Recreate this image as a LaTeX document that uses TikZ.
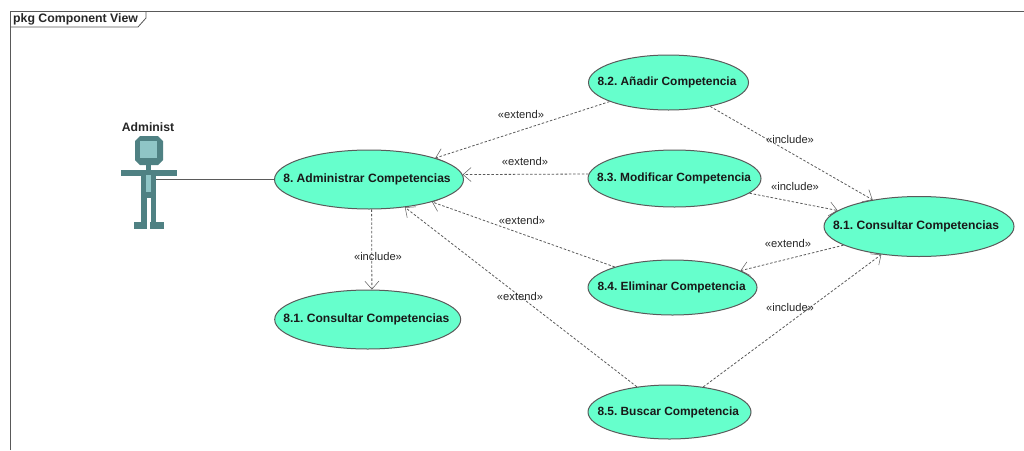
\documentclass[tikz,border=0pt]{standalone}
\usepackage{fontspec}
\setmainfont{Liberation Sans}
\usetikzlibrary{shapes.geometric,arrows.meta}
\definecolor{ucfill}{HTML}{66FFCC}
\definecolor{actordark}{HTML}{4F8183}
\definecolor{actorlight}{HTML}{8FC5C6}
\definecolor{linegray}{HTML}{5A5A5A}
\newcommand{\uctext}[2]{\raisebox{-1pt}{\makebox[0pt][l]{\kern-#1pt #2}}}
\tikzset{
  usecase/.style={ellipse,draw=linegray,line width=1pt,fill=ucfill,inner sep=0pt,font=\fontsize{11.9}{14}\selectfont\bfseries\frenchspacing,text=black!90},
  usecasewide/.style={usecase,font=\fontsize{12.1}{14}\selectfont\bfseries\frenchspacing},
  dep/.style={draw=linegray,line width=0.8pt,dash pattern=on 2.5pt off 1.8pt,-{Straight Barb[length=8pt,width=14pt,line width=0.5pt]}},
  stereo/.style={font=\fontsize{11.2}{13}\selectfont,inner sep=0pt,text=black!85},
  framelabel/.style={font=\fontsize{12.3}{14}\selectfont\bfseries,inner sep=0pt,anchor=west,text=black!85},
  frameline/.style={draw=black!65,line width=0.8pt},
  actorpart/.style={fill=actordark,draw=none},
  actortie/.style={fill=actorlight,draw=none}
}
\begin{document}
\begin{tikzpicture}[x=1pt,y=-1pt]
\useasboundingbox (0,0) rectangle (1024,450);
% frame
\draw[frameline] (10,450) -- (10,11) -- (1024,11);
\draw[frameline] (10,27) -- (138,27) -- (146,18) -- (146,11);
\node[framelabel] (frametitle) at (13,19) {pkg Component View};
% actor
\path[actorpart] (140,136) -- (158,136) -- (163,141) -- (163,160) -- (158,165) -- (140,165) -- (135,160) -- (135,141) -- cycle;
\path[actortie] (140,141) rectangle (157,158);
\path[actorpart] (146,165) rectangle (151,170);
\path[actorpart] (121,170) rectangle (176.5,176);
\path[actorpart] (141,176) rectangle (156,198);
\path[actorpart] (141,198) rectangle (147,228);
\path[actorpart] (151,198) rectangle (156,228);
\path[actorpart] (134,222) rectangle (147,228.5);
\path[actorpart] (150,222) rectangle (164,228.5);
\path[actortie] (146,175) rectangle (151,192);
\node[font=\fontsize{12.2}{14}\selectfont\bfseries,inner sep=0pt,text=black!85] (actorname) at (148,127.5) {Administ};
\coordinate (actorport) at (156,179.5);
% use cases
\node[usecasewide,minimum width=189pt,minimum height=59pt] (admin) at (369,179.5) {\uctext{85.7}{8. Administrar Competencias}};
\node[usecasewide,minimum width=186pt,minimum height=59pt] (consultL) at (367.7,319.5) {\uctext{84.4}{8.1. Consultar Competencias}};
\node[usecase,minimum width=160pt,minimum height=55pt] (add) at (668.5,82.5) {\uctext{71}{8.2. Añadir Competencia}};
\node[usecase,minimum width=173pt,minimum height=57pt] (mod) at (674.5,178.5) {\uctext{77.5}{8.3. Modificar Competencia}};
\node[usecase,minimum width=169pt,minimum height=55pt] (del) at (672.5,287.5) {\uctext{75}{8.4. Eliminar Competencia}};
\node[usecase,minimum width=163pt,minimum height=54pt] (find) at (669.5,412) {\uctext{72}{8.5. Buscar Competencia}};
\node[usecasewide,minimum width=190pt,minimum height=60pt] (consultR) at (919,226.5) {\uctext{86}{8.1. Consultar Competencias}};
% connectors
\draw[draw=linegray,line width=0.9pt] (actorport) -- (admin);
\draw[dep] (admin.275) -- (consultL.82);
\draw[dep] (add) -- (admin);
\draw[dep] (mod.177.7) -- (admin.3);
\draw[dep] (del) -- (admin);
\draw[dep] (find) -- (admin);
\draw[dep] (add) -- (consultR);
\draw[dep] (mod) -- (consultR);
\draw[dep] (consultR) -- (del);
\draw[dep] (find) -- (consultR);
% labels
\node[stereo] (l1) at (521,114) {«extend»};
\node[stereo] (l2) at (525,161) {«extend»};
\node[stereo] (l3) at (522,220) {«extend»};
\node[stereo] (l4) at (520,296.5) {«extend»};
\node[stereo] (l5) at (378,256) {«include»};
\node[stereo] (l6) at (790,139) {«include»};
\node[stereo] (l7) at (795,186.5) {«include»};
\node[stereo] (l8) at (790,307) {«include»};
\node[stereo] (l9) at (788,243) {«extend»};
\end{tikzpicture}
\end{document}
